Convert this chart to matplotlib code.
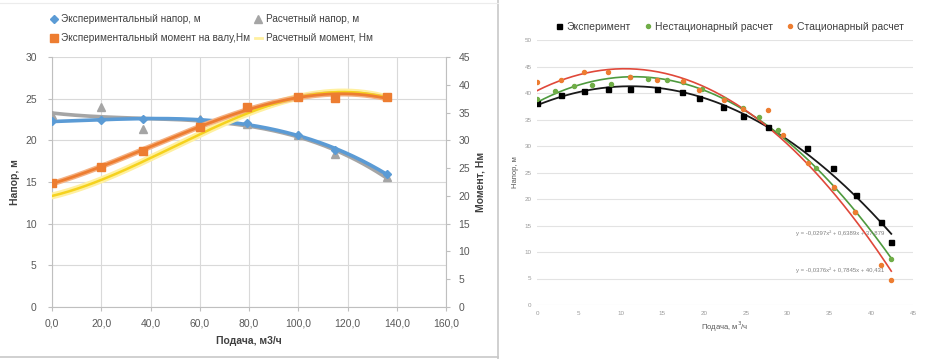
import numpy as np
import matplotlib.pyplot as plt

plt.rcParams['font.family'] = ['Liberation Sans', 'DejaVu Sans']

# Left chart: head and shaft torque against flow (m3/h)
FLOW = [0, 20, 37, 60, 79, 100, 115, 136]
HEAD_EXP = [22.3, 22.4, 22.6, 22.4, 22.1, 20.6, 18.8, 16.0]
HEAD_CALC = [23.0, 24.0, 21.3, 22.6, 22.0, 20.7, 18.3, 15.6]
TORQUE_EXP = [22.3, 25.2, 28.1, 32.4, 36.0, 37.8, 37.7, 37.8]
TORQUE_CALC = [20.1, 22.8, 25.8, 31.5, 35.0, 37.6, 38.4, 37.8]

# Right chart: head against flow (m3/h) for three data sets
EXP_Q = [0, 2.9, 5.6, 8.5, 11.1, 14.4, 17.4, 19.4, 22.3, 24.7, 27.6, 32.3, 35.4, 38.2, 41.2, 42.4]
EXP_H = [38.1, 39.7, 40.3, 40.7, 40.8, 40.7, 40.2, 39.1, 37.4, 35.7, 33.6, 29.6, 25.9, 20.8, 15.6, 11.8]
NS_Q = [0, 2.2, 4.4, 6.6, 8.8, 11.1, 13.3, 15.5, 17.5, 19.8, 22.4, 24.6, 26.6, 28.9, 33.4, 35.6, 38.1, 42.4]
NS_H = [38.8, 40.4, 41.3, 41.5, 41.7, 43.1, 42.6, 42.5, 42.0, 40.7, 38.8, 37.1, 35.4, 33.1, 25.8, 22.0, 17.6, 8.6]
ST_Q = [0, 2.9, 5.6, 8.5, 11.1, 14.4, 17.5, 19.4, 22.4, 24.7, 27.6, 29.4, 32.4, 35.6, 38.1, 41.2, 42.4]
ST_H = [42.1, 42.5, 43.9, 43.9, 43.0, 42.5, 42.2, 40.6, 38.7, 37.0, 36.8, 32.1, 26.7, 22.2, 17.6, 7.5, 4.7]
EQ_EXP = 'y = -0,0297x² + 0,6389x + 37,879'
EQ_ST = 'y = -0,0376x² + 0,7845x + 40,431'

W, H = 927, 359
fig = plt.figure(figsize=(W / 100, H / 100), dpi=100)


def px_axes(x0, y0, x1, y1):
    return fig.add_axes([x0 / W, 1 - y1 / H, (x1 - x0) / W, (y1 - y0) / H])


def trend(x, y, deg, x0, x1):
    xs = np.linspace(x0, x1, 200)
    return xs, np.polyval(np.polyfit(x, y, deg), xs)


# ---------------- left chart ----------------
ax = px_axes(52, 57, 446, 307)
ax2 = ax.twinx()
tick_c = '#595959'
ax.set_xlim(0, 160)
ax.set_ylim(0, 30)
ax2.set_ylim(0, 45)
ax.set_xticks(range(0, 161, 20))
ax.set_xticklabels([f'{v},0' for v in range(0, 161, 20)])
ax.set_yticks(range(0, 31, 5))
ax2.set_yticks(range(0, 46, 5))
ax.grid(True, color='#d9d9d9', lw=0.8)
ax.set_axisbelow(True)
for a in (ax, ax2):
    for s in a.spines.values():
        s.set_visible(False)
    a.tick_params(labelsize=7.5, colors=tick_c, length=3, width=0.8, pad=5)
    a.tick_params(axis='both', color='#bfbfbf')
ax.spines['left'].set_visible(True)
ax.spines['bottom'].set_visible(True)
ax2.spines['right'].set_visible(True)
for s in (ax.spines['left'], ax.spines['bottom'], ax2.spines['right']):
    s.set_color('#bfbfbf')
    s.set_linewidth(0.8)
ax.tick_params(axis='y', pad=8)
ax2.tick_params(axis='y', pad=6)

xs, ys = trend(FLOW, HEAD_CALC, 3, 0, 136)
ax.plot(xs, ys, color='#a5a5a5', lw=2.6, zorder=3)
xs, ys = trend(FLOW, HEAD_EXP, 3, 0, 136)
ax.plot(xs, ys, color='#5b9bd5', lw=2.6, zorder=3)
ax.plot(FLOW, HEAD_CALC, ls='none', marker='^', ms=6, color='#a5a5a5', zorder=4)
ax.plot(FLOW, HEAD_EXP, ls='none', marker='D', ms=4.5, color='#5b9bd5', zorder=4)

xs, ys = trend(FLOW, TORQUE_CALC, 3, 0, 136)
ax2.plot(xs, ys, color='#fff0a0', lw=5, solid_capstyle='round', zorder=2)
ax2.plot(xs, ys, color='#f5d21e', lw=1.8, zorder=3)
xs, ys = trend(FLOW, TORQUE_EXP, 3, 0, 136)
ax2.plot(xs, ys, color='#f4b183', lw=4, zorder=2)
ax2.plot(xs, ys, color='#ed7d31', lw=2, zorder=3)
ax2.plot(FLOW, TORQUE_EXP, ls='none', marker='s', ms=6, color='#ed7d31', zorder=4)

lab = dict(fontsize=7.5, fontweight='bold', color='#404040')
ax.set_xlabel('Подача, м3/ч', labelpad=6, **lab)
ax.set_ylabel('Напор, м', labelpad=4, **lab)
ax2.set_ylabel('Момент, Нм', labelpad=4, **lab)

h1 = plt.Line2D([], [], ls='none', marker='D', ms=4, color='#5b9bd5')
h2 = plt.Line2D([], [], ls='none', marker='s', ms=5.5, color='#ed7d31')
h3 = plt.Line2D([], [], ls='none', marker='^', ms=5.5, color='#a5a5a5')
h4 = plt.Line2D([], [], color='#fff0a0', lw=2)
fig.legend([h1, h2, h3, h4],
           ['Экспериментальный напор, м', 'Экспериментальный момент на валу,Нм',
            'Расчетный напор, м', 'Расчетный момент, Нм'],
           ncol=2, loc='upper left', bbox_to_anchor=(46 / W, 1 - 10 / H),
           frameon=False, fontsize=7.2, labelcolor='#404040',
           handlelength=0.7, handletextpad=0.4, columnspacing=0.45,
           labelspacing=0.9, borderaxespad=0)

# panel frame of the left chart
fig.add_artist(plt.Line2D([0, 498 / W], [1 - 357 / H] * 2, color='#c8c8c8', lw=1.2,
                          transform=fig.transFigure))
fig.add_artist(plt.Line2D([498 / W] * 2, [0, 1], color='#c8c8c8', lw=1.2,
                          transform=fig.transFigure))
fig.add_artist(plt.Line2D([0, 498 / W], [1 - 3 / H] * 2, color='#ececec', lw=0.8,
                          transform=fig.transFigure))

# ---------------- right chart ----------------
ax3 = px_axes(537, 40, 913, 305)
ax3.set_xlim(0, 45)
ax3.set_ylim(0, 50)
ax3.set_xticks(range(0, 46, 5))
ax3.set_yticks(range(0, 51, 5))
for s in ax3.spines.values():
    s.set_visible(False)
ax3.grid(True, axis='y', color='#e3e3e3', lw=0.8)
ax3.set_axisbelow(True)
ax3.tick_params(labelsize=4.5, colors='#9a9a9a', length=0, pad=4)

xs, ys = trend(EXP_Q, EXP_H, 2, 0, 42.4)
ax3.plot(xs, ys, color='#1a1a1a', lw=1.3, zorder=3)
xs, ys = trend(NS_Q, NS_H, 2, 0, 42.4)
ax3.plot(xs, ys, color='#4e9a3e', lw=1.2, zorder=3)
xs, ys = trend(ST_Q, ST_H, 2, 0, 42.4)
ax3.plot(xs, ys, color='#e0483a', lw=1.2, zorder=3)
ax3.plot(EXP_Q, EXP_H, ls='none', marker='s', ms=3.6, color='black', zorder=4,
         label='Эксперимент')
ax3.plot(NS_Q, NS_H, ls='none', marker='o', ms=2.9, color='#70ad47', zorder=4,
         label='Нестационарный расчет')
ax3.plot(ST_Q, ST_H, ls='none', marker='o', ms=2.9, color='#ed7d31', zorder=4,
         label='Стационарный расчет')

ax3.text(41.6, 13.6, EQ_EXP, fontsize=4.3, color='#808080', ha='right', va='center')
ax3.text(41.6, 6.6, EQ_ST, fontsize=4.3, color='#808080', ha='right', va='center')

ax3.set_xlabel('Подача, м$^3$/ч', fontsize=5.5, color='#595959', labelpad=3)
ax3.set_ylabel('Напор, м', fontsize=5.5, color='#595959', labelpad=4)
ax3.legend(loc='center', bbox_to_anchor=(730 / W, 1 - 27 / H),
           bbox_transform=fig.transFigure, ncol=3, frameon=False,
           fontsize=7.5, labelcolor='#404040', handlelength=0.6,
           handletextpad=0.4, columnspacing=1.3, borderaxespad=0)

fig.savefig('out.png', dpi=100)
